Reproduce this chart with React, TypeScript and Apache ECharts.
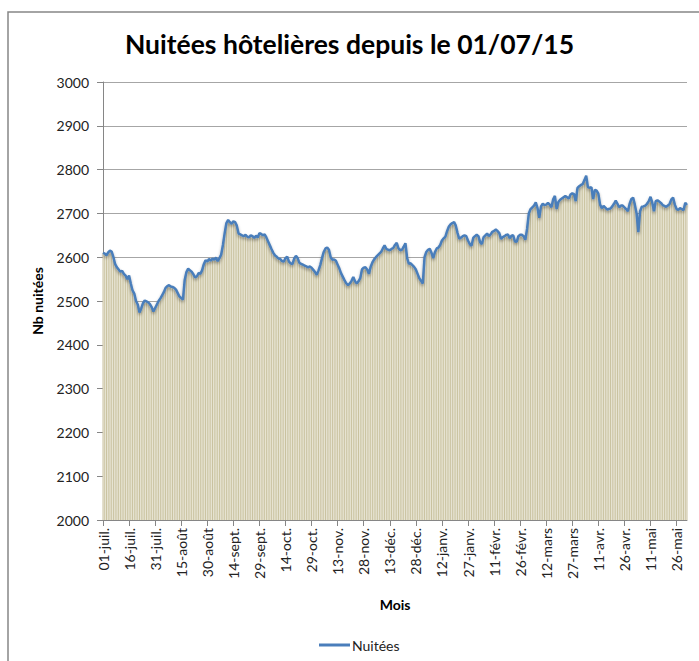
import React, { useEffect, useRef } from 'react';
import * as echarts from 'echarts';

const monthNames = ['janv.', 'févr.', 'mars', 'avr.', 'mai', 'juin', 'juil.', 'août', 'sept.', 'oct.', 'nov.', 'déc.'];

// Nuitées per day, from 01/07/15 (337 days)
const nuitees = [
  2610, 2608, 2604, 2611, 2615, 2613, 2600, 2584, 2577, 2572, 2567,
  2569, 2562, 2558, 2550, 2558, 2540, 2524, 2517, 2500, 2492,
  2474, 2483, 2495, 2501, 2499, 2497, 2493, 2486, 2476, 2484,
  2492, 2500, 2506, 2513, 2520, 2530, 2534, 2536, 2533, 2532,
  2530, 2526, 2518, 2510, 2507, 2503, 2548, 2566, 2574, 2570,
  2567, 2561, 2554, 2556, 2564, 2562, 2570, 2584, 2593, 2590,
  2596, 2592, 2597, 2594, 2599, 2591, 2598, 2606, 2628, 2655,
  2678, 2685, 2680, 2676, 2682, 2680, 2672, 2654, 2652, 2650,
  2648, 2651, 2647, 2645, 2650, 2648, 2644, 2649, 2645, 2655,
  2653, 2650, 2652, 2645, 2636, 2627, 2618, 2610, 2604, 2601,
  2597, 2596, 2591, 2590, 2598, 2601, 2590, 2586, 2584, 2597,
  2603, 2598, 2587, 2585, 2583, 2581, 2579, 2577, 2579, 2576,
  2571, 2566, 2560, 2570, 2582, 2598, 2612, 2620, 2622, 2617,
  2600, 2594, 2595, 2592, 2583, 2574, 2563, 2555, 2547, 2540,
  2536, 2540, 2546, 2555, 2545, 2540, 2545, 2552, 2572, 2576,
  2577, 2572, 2562, 2578, 2588, 2595, 2600, 2604, 2608, 2612,
  2620, 2627, 2619, 2617, 2616, 2619, 2621, 2628, 2633, 2620,
  2616, 2617, 2624, 2632, 2598, 2585, 2586, 2582, 2578, 2572,
  2562, 2552, 2546, 2540, 2600, 2612, 2617, 2619, 2610, 2598,
  2612, 2620, 2622, 2628, 2638, 2643, 2647, 2660, 2670, 2675,
  2678, 2680, 2672, 2655, 2642, 2645, 2648, 2650, 2648, 2638,
  2630, 2626, 2644, 2648, 2651, 2648, 2634, 2630, 2646, 2650,
  2654, 2648, 2652, 2658, 2660, 2663, 2660, 2655, 2642, 2646,
  2648, 2651, 2652, 2643, 2649, 2650, 2636, 2635, 2648, 2651,
  2651, 2648, 2640, 2665, 2700, 2710, 2714, 2718, 2725, 2712,
  2690, 2716, 2722, 2719, 2720, 2724, 2720, 2714, 2732, 2740,
  2710, 2726, 2731, 2734, 2737, 2740, 2737, 2734, 2743, 2746,
  2744, 2728, 2758, 2762, 2765, 2767, 2776, 2786, 2760, 2758,
  2760, 2733, 2754, 2752, 2745, 2720, 2712, 2717, 2713, 2709,
  2710, 2711, 2716, 2722, 2729, 2722, 2714, 2718, 2718, 2714,
  2710, 2705, 2722, 2733, 2736, 2720, 2700, 2657, 2705, 2715,
  2716, 2718, 2722, 2728, 2738, 2725, 2705, 2728, 2730, 2727,
  2724, 2719, 2717, 2715, 2718, 2722, 2732, 2736, 2720, 2710,
  2708, 2712, 2710, 2707, 2724, 2719,
];

const categories = nuitees.map((_, i) => {
  const d = new Date(Date.UTC(2015, 6, 1 + i));
  return String(d.getUTCDate()).padStart(2, '0') + '-' + monthNames[d.getUTCMonth()];
});

const FONT = 'Lato, "Open Sans", sans-serif';

export default function App() {
  const ref = useRef<HTMLDivElement>(null);
  useEffect(() => {
    if (!ref.current) return;
    const chart = echarts.init(ref.current, null, { renderer: 'svg' });
    chart.setOption({
      animation: false,
      backgroundColor: '#ffffff',
      title: {
        text: 'Nuitées hôtelières depuis le 01/07/15',
        left: 'center',
        top: 25,
        textStyle: { fontFamily: FONT, fontSize: 26.5, fontWeight: 'bold', color: '#000' },
      },
      graphic: [
        {
          type: 'rect',
          shape: { x: 8, y: 12, width: 700, height: 660 },
          style: { fill: 'none', stroke: '#868686', lineWidth: 1.5 },
          silent: true,
        },
      ],
      legend: {
        data: ['Nuitées'],
        left: 314,
        top: 633,
        icon: 'rect',
        itemWidth: 31,
        itemHeight: 3,
        itemGap: 4,
        textStyle: { fontFamily: FONT, fontSize: 14, color: '#222', padding: [0, 0, 0, -3] },
      },
      grid: { left: 103, right: 12, top: 82, bottom: 141 },
      xAxis: {
        type: 'category',
        data: categories,
        boundaryGap: false,
        name: 'Mois',
        nameLocation: 'middle',
        nameGap: 77,
        nameTextStyle: { fontFamily: FONT, fontSize: 14, fontWeight: 'bold', color: '#000' },
        axisLine: { lineStyle: { color: '#868686', width: 1 } },
        axisTick: { interval: 14, length: 6, lineStyle: { color: '#868686' } },
        axisLabel: { interval: 14, rotate: 90, margin: 8, fontFamily: FONT, fontSize: 14, color: '#222' },
      },
      yAxis: {
        type: 'value',
        min: 2000,
        max: 3000,
        interval: 100,
        name: 'Nb nuitées',
        nameLocation: 'middle',
        nameGap: 59,
        nameRotate: 90,
        nameTextStyle: { fontFamily: FONT, fontSize: 14, fontWeight: 'bold', color: '#000' },
        axisLine: { show: true, lineStyle: { color: '#868686', width: 1 } },
        axisTick: { show: true, length: 6, lineStyle: { color: '#868686' } },
        axisLabel: { margin: 14, fontFamily: FONT, fontSize: 14, color: '#222', formatter: (v: number) => String(v) },
        splitLine: { lineStyle: { color: '#a6a6a6', width: 1 } },
      },
      series: [
        {
          type: 'line',
          name: 'fond',
          data: nuitees,
          symbol: 'none',
          lineStyle: { width: 0, opacity: 0 },
          areaStyle: { color: '#f1efe4', origin: 'start', opacity: 1 },
          silent: true,
          z: 1,
        },
        {
          type: 'bar',
          name: 'lignes',
          data: nuitees,
          barWidth: 1,
          itemStyle: { color: '#c9c29f' },
          silent: true,
          z: 2,
        },
        {
          type: 'line',
          name: 'Nuitées',
          data: nuitees,
          symbol: 'none',
          lineStyle: {
            color: '#4a7ebb',
            width: 2.5,
            shadowColor: 'rgba(0,0,0,0.35)',
            shadowBlur: 3,
            shadowOffsetY: 2,
          },
          itemStyle: { color: '#4a7ebb' },
          z: 3,
        },
      ],
    });
    return () => chart.dispose();
  }, []);
  return <div ref={ref} style={{ position: 'fixed', left: 0, top: 0, width: 699, height: 661 }} />;
}
